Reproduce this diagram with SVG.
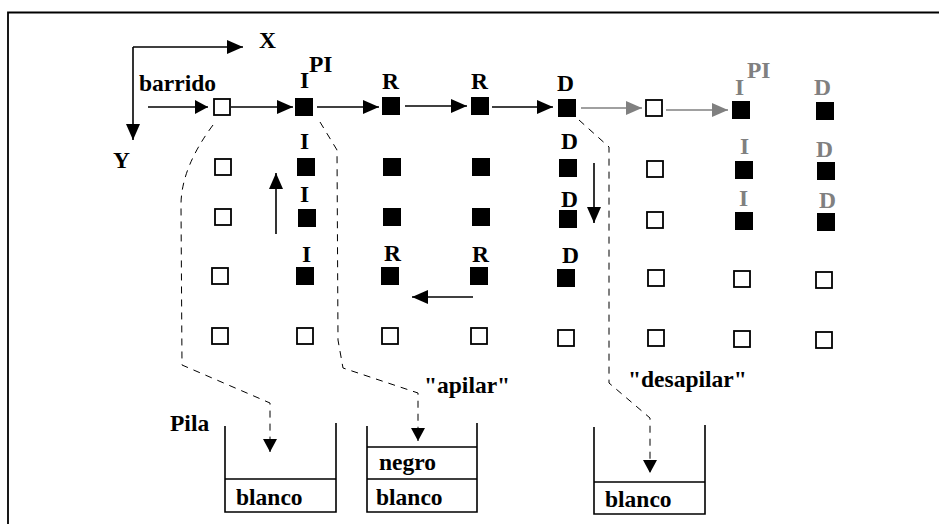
<svg xmlns="http://www.w3.org/2000/svg" width="939" height="524" viewBox="0 0 939 524">
  <style>
    .t { font-family: "Liberation Serif", "Times New Roman", serif; font-weight: bold; font-size: 23.5px; fill: #000; }
    .g { fill: #808080; }
    .on { fill: #000; }
    .off { fill: #fff; stroke: #000; stroke-width: 1.8; }
    .ln { fill: none; stroke: #000; stroke-width: 1.6; }
    .lg { fill: none; stroke: #808080; stroke-width: 1.6; }
    .dash { fill: none; stroke: #000; stroke-width: 1; stroke-dasharray: 7 6; }
    .box { fill: none; stroke: #000; stroke-width: 1.6; }
  </style>
  <defs>
    <marker id="ah" markerWidth="16" markerHeight="14" refX="16" refY="7" orient="auto" markerUnits="userSpaceOnUse">
      <path d="M0,0 L16,7 L0,14 Z" fill="#000"/>
    </marker>
    <marker id="ahg" markerWidth="16" markerHeight="14" refX="16" refY="7" orient="auto" markerUnits="userSpaceOnUse">
      <path d="M0,0 L16,7 L0,14 Z" fill="#808080"/>
    </marker>
    <marker id="ahs" markerWidth="13" markerHeight="14" refX="13" refY="7" orient="auto" markerUnits="userSpaceOnUse">
      <path d="M0,0 L13,7 L0,14 Z" fill="#000"/>
    </marker>
  </defs>

  <!-- frame -->
  <path d="M8,524 L8,12.5 L939,12.5" fill="none" stroke="#000" stroke-width="1.8"/>

  <!-- axes -->
  <g id="axes">
    <path class="ln" d="M133,47 L243,47" marker-end="url(#ah)"/>
    <path class="ln" d="M133,47 L133,140" marker-end="url(#ah)"/>
    <text class="t" x="259" y="48">X</text>
    <text class="t" x="113" y="168">Y</text>
    <text class="t" x="139" y="91">barrido</text>
  </g>

  <!-- pixel grid -->
  <g id="grid">
    <!-- column 1 -->
    <rect class="off" x="214" y="99" width="16" height="16"/>
    <rect class="off" x="215" y="159" width="16" height="16"/>
    <rect class="off" x="215" y="209" width="16" height="16"/>
    <rect class="off" x="212" y="268" width="16" height="16"/>
    <rect class="off" x="212" y="328" width="16" height="16"/>
    <!-- column 2 -->
    <rect class="on" x="295" y="98" width="18" height="18"/>
    <rect class="on" x="297" y="158" width="18" height="18"/>
    <rect class="on" x="298" y="209" width="18" height="18"/>
    <rect class="on" x="296" y="267" width="18" height="18"/>
    <rect class="off" x="297" y="328" width="16" height="16"/>
    <!-- column 3 -->
    <rect class="on" x="382" y="97" width="18" height="18"/>
    <rect class="on" x="383" y="158" width="18" height="18"/>
    <rect class="on" x="383" y="208" width="18" height="18"/>
    <rect class="on" x="381" y="267" width="18" height="18"/>
    <rect class="off" x="382" y="328" width="16" height="16"/>
    <!-- column 4 -->
    <rect class="on" x="471" y="97" width="18" height="18"/>
    <rect class="on" x="472" y="158" width="18" height="18"/>
    <rect class="on" x="472" y="208" width="18" height="18"/>
    <rect class="on" x="470" y="267" width="18" height="18"/>
    <rect class="off" x="471" y="328" width="16" height="16"/>
    <!-- column 5 -->
    <rect class="on" x="558" y="99" width="18" height="18"/>
    <rect class="on" x="559" y="159" width="18" height="18"/>
    <rect class="on" x="559" y="210" width="18" height="18"/>
    <rect class="on" x="557" y="269" width="18" height="18"/>
    <rect class="off" x="558" y="330" width="16" height="16"/>
    <!-- column 6 -->
    <rect class="off" x="646" y="100" width="16" height="16"/>
    <rect class="off" x="647" y="161" width="16" height="16"/>
    <rect class="off" x="647" y="212" width="16" height="16"/>
    <rect class="off" x="648" y="270" width="16" height="16"/>
    <rect class="off" x="648" y="330" width="16" height="16"/>
    <!-- column 7 -->
    <rect class="on" x="732" y="101" width="18" height="18"/>
    <rect class="on" x="735" y="161" width="18" height="18"/>
    <rect class="on" x="735" y="212" width="18" height="18"/>
    <rect class="off" x="734" y="271" width="16" height="16"/>
    <rect class="off" x="734" y="331" width="16" height="16"/>
    <!-- column 8 -->
    <rect class="on" x="816" y="102" width="18" height="18"/>
    <rect class="on" x="817" y="162" width="18" height="18"/>
    <rect class="on" x="817" y="213" width="18" height="18"/>
    <rect class="off" x="816" y="272" width="16" height="16"/>
    <rect class="off" x="816" y="332" width="16" height="16"/>
  </g>

  <!-- labels -->
  <g id="labels">
    <text class="t" x="300" y="88">I</text>
    <text class="t" x="309" y="72">PI</text>
    <text class="t" x="382" y="89">R</text>
    <text class="t" x="471" y="89">R</text>
    <text class="t" x="557" y="91">D</text>

    <text class="t" x="300" y="149">I</text>
    <text class="t" x="561" y="149">D</text>
    <text class="t" x="300" y="202">I</text>
    <text class="t" x="561" y="207">D</text>
    <text class="t" x="302" y="262">I</text>
    <text class="t" x="384" y="261">R</text>
    <text class="t" x="472" y="262">R</text>
    <text class="t" x="562" y="263">D</text>

    <text class="t g" x="735" y="95">I</text>
    <text class="t g" x="747" y="78">PI</text>
    <text class="t g" x="814" y="95">D</text>
    <text class="t g" x="740" y="154">I</text>
    <text class="t g" x="816" y="157">D</text>
    <text class="t g" x="739" y="206">I</text>
    <text class="t g" x="819" y="208">D</text>
  </g>

  <!-- connectors -->
  <g id="connectors">
    <path class="ln" d="M148,107 L208,107" marker-end="url(#ahs)"/>
    <path class="ln" d="M231,107 L293,107" marker-end="url(#ah)"/>
    <path class="ln" d="M317,107 L379,107" marker-end="url(#ah)"/>
    <path class="ln" d="M405,106 L467,106" marker-end="url(#ah)"/>
    <path class="ln" d="M492,107 L553,107" marker-end="url(#ah)"/>
    <path class="lg" d="M581,108 L642,108" marker-end="url(#ahg)"/>
    <path class="lg" d="M666,110 L728,110" marker-end="url(#ahg)"/>

    <path class="ln" d="M276,234 L276,173" marker-end="url(#ah)"/>
    <path class="ln" d="M594,163 L594,223" marker-end="url(#ah)"/>
    <path class="ln" d="M473,297 L412,297" marker-end="url(#ah)"/>

    <!-- stack transfer paths -->
    <path class="dash" d="M213,125 Q181,168 181,205 L182,365 L270,403 L270,452" marker-end="url(#ahs)"/>
    <path class="dash" d="M320,122 L337,150 L338,340 L343,368 L418,393 L418,441" marker-end="url(#ahs)"/>
    <path class="dash" d="M579,120 L609,147 L609,383 L650,418 L650,473" marker-end="url(#ahs)"/>
  </g>

  <!-- stacks -->
  <g id="stack1">
    <path class="box" d="M225,426 L225,512 L336,512 L336,423 M225,479 L336,479"/>
    <text class="t" x="236" y="505">blanco</text>
  </g>
  <g id="stack2">
    <path class="box" d="M367,426 L367,512 L477,512 L477,423 M367,447 L477,447 M367,479 L477,479"/>
    <text class="t" x="379" y="470">negro</text>
    <text class="t" x="376" y="505">blanco</text>
  </g>
  <g id="stack3">
    <path class="box" d="M594,427 L594,514 L705,514 L705,425 M594,482 L705,482"/>
    <text class="t" x="605" y="507">blanco</text>
  </g>

  <g id="captions">
    <text class="t" x="170" y="431">Pila</text>
    <text class="t" x="424" y="393">"apilar"</text>
    <text class="t" x="628" y="387">"desapilar"</text>
  </g>
</svg>
